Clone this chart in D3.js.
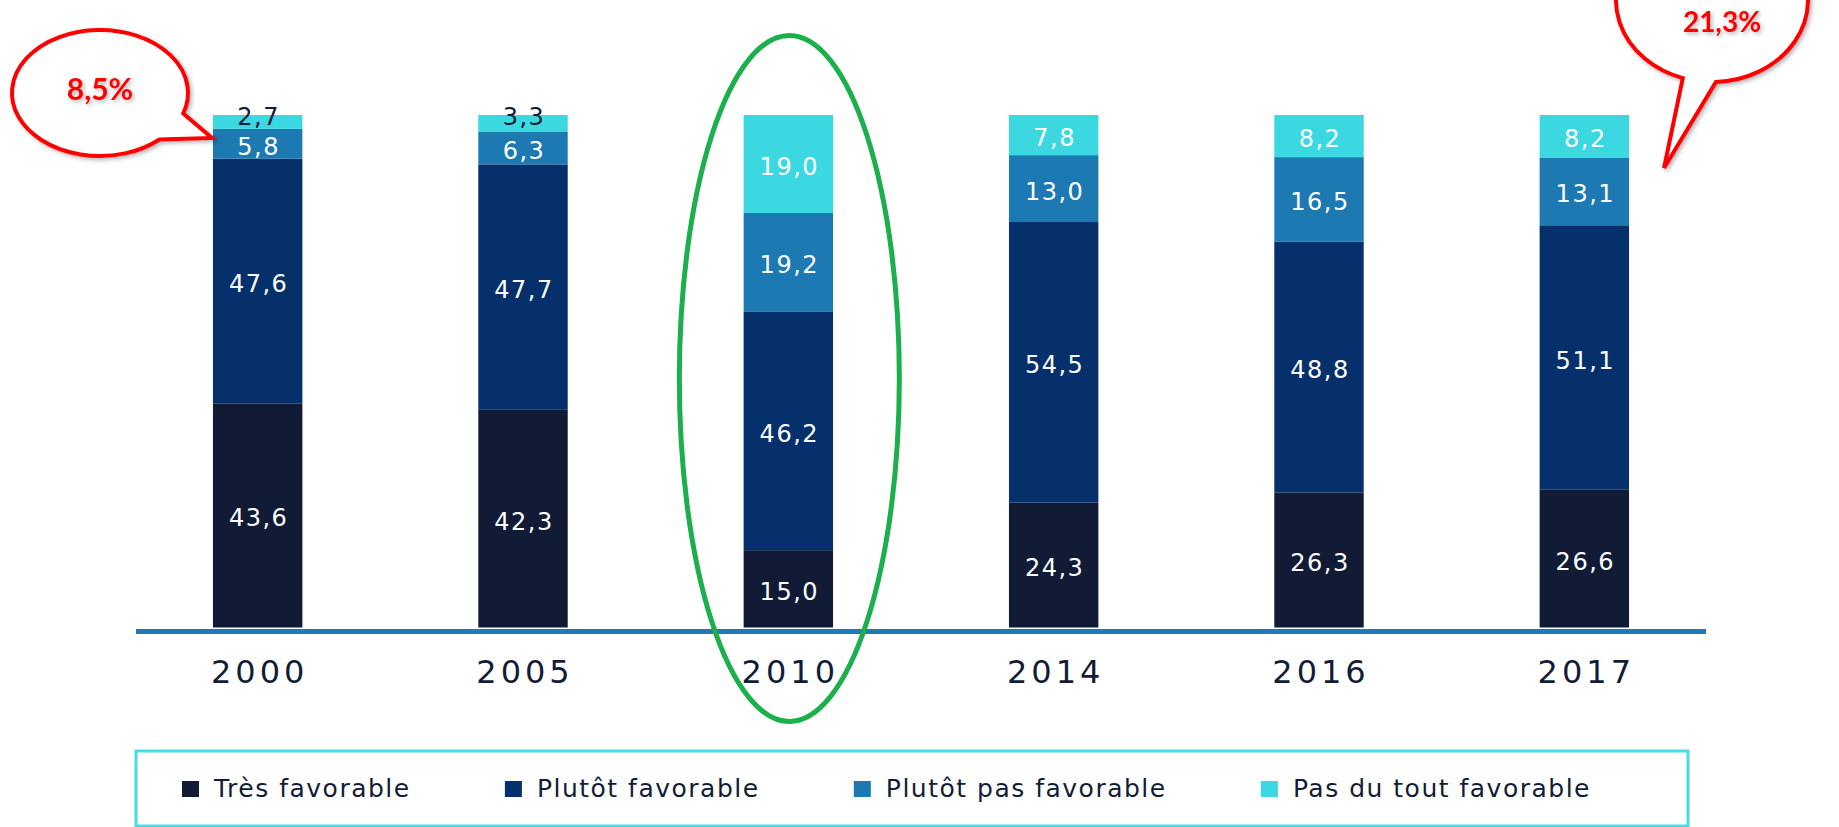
<!DOCTYPE html>
<html>
<head>
<meta charset="utf-8">
<script src="https://cdn.jsdelivr.net/npm/d3@7"></script>
<style>
  body { margin: 0; background: #fff; }
  svg { display: block; }
</style>
</head>
<body>
<div id="chart"></div>
<script>
// ----------------------------------------------------------------------------
// Data
// ----------------------------------------------------------------------------
const years = ['2000', '2005', '2010', '2014', '2016', '2017'];
const categories = ['Très favorable', 'Plutôt favorable', 'Plutôt pas favorable', 'Pas du tout favorable'];
const tresFavorable = [43.6, 42.3, 15.0, 24.3, 26.3, 26.6];
const plutotFavorable = [47.6, 47.7, 46.2, 54.5, 48.8, 51.1];
const plutotPasFavorable = [5.8, 6.3, 19.2, 13.0, 16.5, 13.1];
const pasDuToutFavorable = [2.7, 3.3, 19.0, 7.8, 8.2, 8.2];
const highlightYear = '2010';

const colors = ['#111b36', '#05306b', '#1c79b2', '#3bd8e1'];

const W = 1839, H = 827;
const series = [tresFavorable, plutotFavorable, plutotPasFavorable, pasDuToutFavorable];
const table = years.map((y, i) => {
  let row = {year: y};
  categories.forEach((c, j) => { row[c] = series[j][i]; });
  return row;
});

const fmt = v => d3.format('.1f')(v).replace('.', ',');

const svg = d3.select('#chart').append('svg')
  .attr('width', W).attr('height', H)
  .style('font-family', '"DejaVu Sans", sans-serif');

const defs = svg.append('defs');
const shadow = defs.append('filter').attr('id', 'shadow')
  .attr('x', '-20%').attr('y', '-20%').attr('width', '140%').attr('height', '140%');
shadow.append('feDropShadow')
  .attr('dx', 2).attr('dy', 2).attr('stdDeviation', 2)
  .attr('flood-color', '#000').attr('flood-opacity', 0.3);

// ----------------------------------------------------------------------------
// scales
// ----------------------------------------------------------------------------
const xScale = d3.scaleBand()
  .domain(years)
  .range([125, 1717])
  .paddingInner(0.663)
  .paddingOuter(0.3315);

const yScale = d3.scaleLinear()
  .domain([0, 1])
  .range([627.5, 115]);

const stacked = d3.stack()
  .keys(categories)
  .offset(d3.stackOffsetExpand)(table);

// ----------------------------------------------------------------------------
// bars
// ----------------------------------------------------------------------------
const layers = svg.append('g').attr('class', 'bars')
  .selectAll('g')
  .data(stacked)
  .enter()
  .append('g')
  .attr('fill', (d, i) => colors[i]);

layers.selectAll('rect')
  .data(d => d)
  .enter()
  .append('rect')
  .attr('x', d => xScale(d.data.year))
  .attr('width', xScale.bandwidth())
  .attr('y', d => yScale(d[1]))
  .attr('height', d => yScale(d[0]) - yScale(d[1]));

// value labels
const labelData = [];
stacked.forEach((s, i) => {
  s.forEach(d => {
    labelData.push({year: d.data.year, value: d.data[s.key], y0: yScale(d[0]), y1: yScale(d[1])});
  });
});

svg.append('g').attr('class', 'labels')
  .selectAll('text')
  .data(labelData)
  .enter()
  .append('text')
  .attr('x', d => xScale(d.year) + xScale.bandwidth() / 2 + 1)
  .attr('y', d => (d.y0 - d.y1) < 24 ? d.y1 + 2 : (d.y0 + d.y1) / 2 + 3)
  .attr('text-anchor', 'middle')
  .attr('dominant-baseline', 'central')
  .attr('font-size', 24)
  .attr('letter-spacing', 1.5)
  .attr('fill', d => (d.y0 - d.y1) < 24 ? '#111b36' : '#ffffff')
  .text(d => fmt(d.value));

// ----------------------------------------------------------------------------
// x axis
// ----------------------------------------------------------------------------
svg.append('line')
  .attr('x1', 136).attr('x2', 1706)
  .attr('y1', 631.5).attr('y2', 631.5)
  .attr('stroke', '#1f7ab5')
  .attr('stroke-width', 5);

svg.append('g').attr('class', 'years')
  .selectAll('text')
  .data(years)
  .enter()
  .append('text')
  .attr('x', d => xScale(d) + xScale.bandwidth() / 2 + 2)
  .attr('y', 683)
  .attr('text-anchor', 'middle')
  .attr('font-size', 32)
  .attr('letter-spacing', 4)
  .attr('fill', '#121c36')
  .text(d => d);

// ----------------------------------------------------------------------------
// legend
// ----------------------------------------------------------------------------
svg.append('rect')
  .attr('x', 136).attr('y', 751)
  .attr('width', 1552).attr('height', 75)
  .attr('fill', 'none')
  .attr('stroke', '#45dde3')
  .attr('stroke-width', 3);

const legendStart = 182, legendEnd = 1591, swGap = 32;
const legendItems = categories.map((c, i) => {
  const g = svg.append('g');
  g.append('rect')
    .attr('x', 0).attr('y', 781)
    .attr('width', 17).attr('height', 16)
    .attr('fill', colors[i]);
  const t = g.append('text')
    .attr('x', swGap).attr('y', 797)
    .attr('font-size', 25)
    .attr('letter-spacing', 1.5)
    .attr('fill', '#121c36')
    .text(c);
  return {g: g, w: t.node().getComputedTextLength()};
});
const totalW = d3.sum(legendItems, d => d.w) + legendItems.length * swGap;
const itemGap = (legendEnd - legendStart - totalW) / (legendItems.length - 1);
let lx = legendStart;
legendItems.forEach(d => {
  d.g.attr('transform', `translate(${lx},0)`);
  lx += swGap + d.w + itemGap;
});

// ----------------------------------------------------------------------------
// highlight ellipse round 2010
// ----------------------------------------------------------------------------
svg.append('ellipse')
  .attr('cx', xScale(highlightYear) + xScale.bandwidth() / 2 + 1)
  .attr('cy', 378.5)
  .attr('rx', 110)
  .attr('ry', 343)
  .attr('fill', 'none')
  .attr('stroke', '#1bb04b')
  .attr('stroke-width', 5);

// ----------------------------------------------------------------------------
// speech bubbles: sum of the two unfavourable shares
// ----------------------------------------------------------------------------
const unfav = i => plutotPasFavorable[i] + pasDuToutFavorable[i];

const bubble = (cx, cy, rx, ry, a1, a2, tip) => {
  const p = a => [cx + rx * Math.cos(a), cy + ry * Math.sin(a)];
  const b1 = p(a1), b2 = p(a2);
  return `M${b1[0]},${b1[1]} A${rx},${ry} 0 1 0 ${b2[0]},${b2[1]} L${tip[0]},${tip[1]} Z`;
};

const first = 0, last = years.length - 1;
const bubbles = [
  {cx: 100, cy: 93, rx: 88, ry: 63, a1: 0.33, a2: 0.83, size: 30,
   tip: [xScale(years[first]) - 1, yScale(1) + 23], text: fmt(unfav(first)) + '%', tx: 100, ty: 88},
  {cx: 1712, cy: 0, rx: 96, ry: 82, a1: 1.53, a2: 1.88, size: 28,
   tip: [xScale(years[last]) + xScale.bandwidth() + 35, yScale(1) + 53], text: fmt(unfav(last)) + '%', tx: 1722, ty: 21}
];

bubbles.forEach(b => {
  svg.append('path')
    .attr('d', bubble(b.cx, b.cy, b.rx, b.ry, b.a1, b.a2, b.tip))
    .attr('fill', '#fff')
    .attr('stroke', '#ff0000')
    .attr('stroke-width', 4)
    .attr('stroke-linejoin', 'miter')
    .attr('filter', 'url(#shadow)');
  svg.append('text')
    .attr('x', b.tx)
    .attr('y', b.ty)
    .attr('text-anchor', 'middle')
    .attr('dominant-baseline', 'central')
    .attr('font-family', 'Lato, sans-serif')
    .attr('font-weight', 'bold')
    .attr('font-size', b.size)
    .attr('fill', '#ff0000')
    .attr('filter', 'url(#shadow)')
    .text(b.text);
});
</script>
</body>
</html>
